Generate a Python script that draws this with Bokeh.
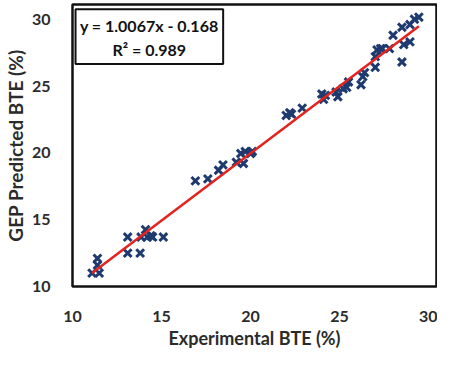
from bokeh.plotting import figure
from bokeh.models import Range1d, BoxAnnotation, Label, FixedTicker
from bokeh.embed import file_html
from bokeh.resources import INLINE

# Experimental vs GEP predicted BTE (%)
experimental = [
    11.1, 11.5, 11.4, 11.4,
    13.1, 13.1, 13.8, 13.85, 14.1, 14.2, 14.4, 14.5, 15.1,
    16.9, 17.6, 18.2, 18.45, 19.2, 19.45, 19.6, 19.7, 20.0, 20.1,
    22.0, 22.2, 22.3, 22.9,
    24.0, 24.2, 24.1, 24.8, 24.9, 25.2, 25.4, 25.5,
    26.2, 26.3, 26.4, 27.0, 27.0, 27.1, 27.3, 27.4, 27.8,
    28.0, 28.5, 28.6, 28.95, 28.5, 28.95, 29.2, 29.45,
]
predicted = [
    11.0, 11.0, 12.1, 11.6,
    13.7, 12.5, 12.5, 13.7, 14.25, 13.7, 13.8, 13.7, 13.7,
    17.9, 18.05, 18.7, 19.1, 19.3, 19.95, 19.2, 20.1, 19.95, 20.1,
    22.8, 23.0, 22.9, 23.35,
    24.4, 24.3, 24.0, 24.55, 24.2, 24.8, 24.9, 25.3,
    25.1, 25.7, 26.0, 26.4, 27.2, 27.7, 27.8, 27.8, 27.8,
    28.8, 29.4, 28.1, 28.3, 26.8, 29.6, 30.0, 30.15,
]
slope = 1.0067
intercept = -0.168
equation_text = "y = 1.0067x - 0.168"
r2_text = "R\u00b2 = 0.989"
ticks = [10, 15, 20, 25, 30]

FONT = "Lato"

p = figure(width=437, height=351, output_backend="svg", toolbar_location=None,
           x_range=Range1d(10, 30.44), y_range=Range1d(10, 31.1),
           min_border_left=64, min_border_right=1, min_border_top=4,
           min_border_bottom=64)

p.xgrid.visible = False
p.ygrid.visible = False
p.outline_line_color = "#111111"
p.outline_line_width = 2.5
p.background_fill_color = "white"
p.border_fill_color = "white"

for ax in (p.xaxis, p.yaxis):
    ax.ticker = FixedTicker(ticks=ticks)
    ax.axis_line_color = None
    ax.major_tick_line_color = None
    ax.minor_tick_line_color = None
    ax.major_label_text_font = FONT
    ax.major_label_text_font_style = "bold"
    ax.major_label_text_font_size = "16px"
    ax.major_label_text_color = "#2b2b2b"
    ax.axis_label_text_font = FONT
    ax.axis_label_text_font_style = "bold"
    ax.axis_label_text_font_size = "18px"
    ax.axis_label_text_color = "#2b2b2b"

p.xaxis.axis_label = "Experimental BTE (%)"
p.yaxis.axis_label = "GEP Predicted BTE (%)"
p.yaxis.axis_label_text_font_size = "19px"
p.xaxis.major_label_standoff = 18
p.xaxis.axis_label_standoff = 2
p.yaxis.major_label_standoff = 16
p.yaxis.axis_label_standoff = 2

p.scatter(experimental, predicted, marker="x", size=11, line_width=3,
          line_color="#1F3A6E")

x0, x1 = min(experimental), max(experimental)
p.line([x0, x1], [slope * x0 + intercept, slope * x1 + intercept],
       line_color="#E3231F", line_width=2.5)

box = BoxAnnotation(left=10.17, right=18.46, bottom=26.64, top=30.75,
                    fill_color="white", fill_alpha=1.0,
                    line_color="#111111", line_width=2, line_alpha=1.0)
p.add_layout(box)
for txt, yy in ((equation_text, 29.55), (r2_text, 27.75)):
    p.add_layout(Label(x=14.31, y=yy, text=txt, text_align="center",
                       text_baseline="middle", text_font=FONT,
                       text_font_style="bold", text_font_size="16px",
                       text_color="#111111"))

open("out.html", "w").write(file_html(p, INLINE))
